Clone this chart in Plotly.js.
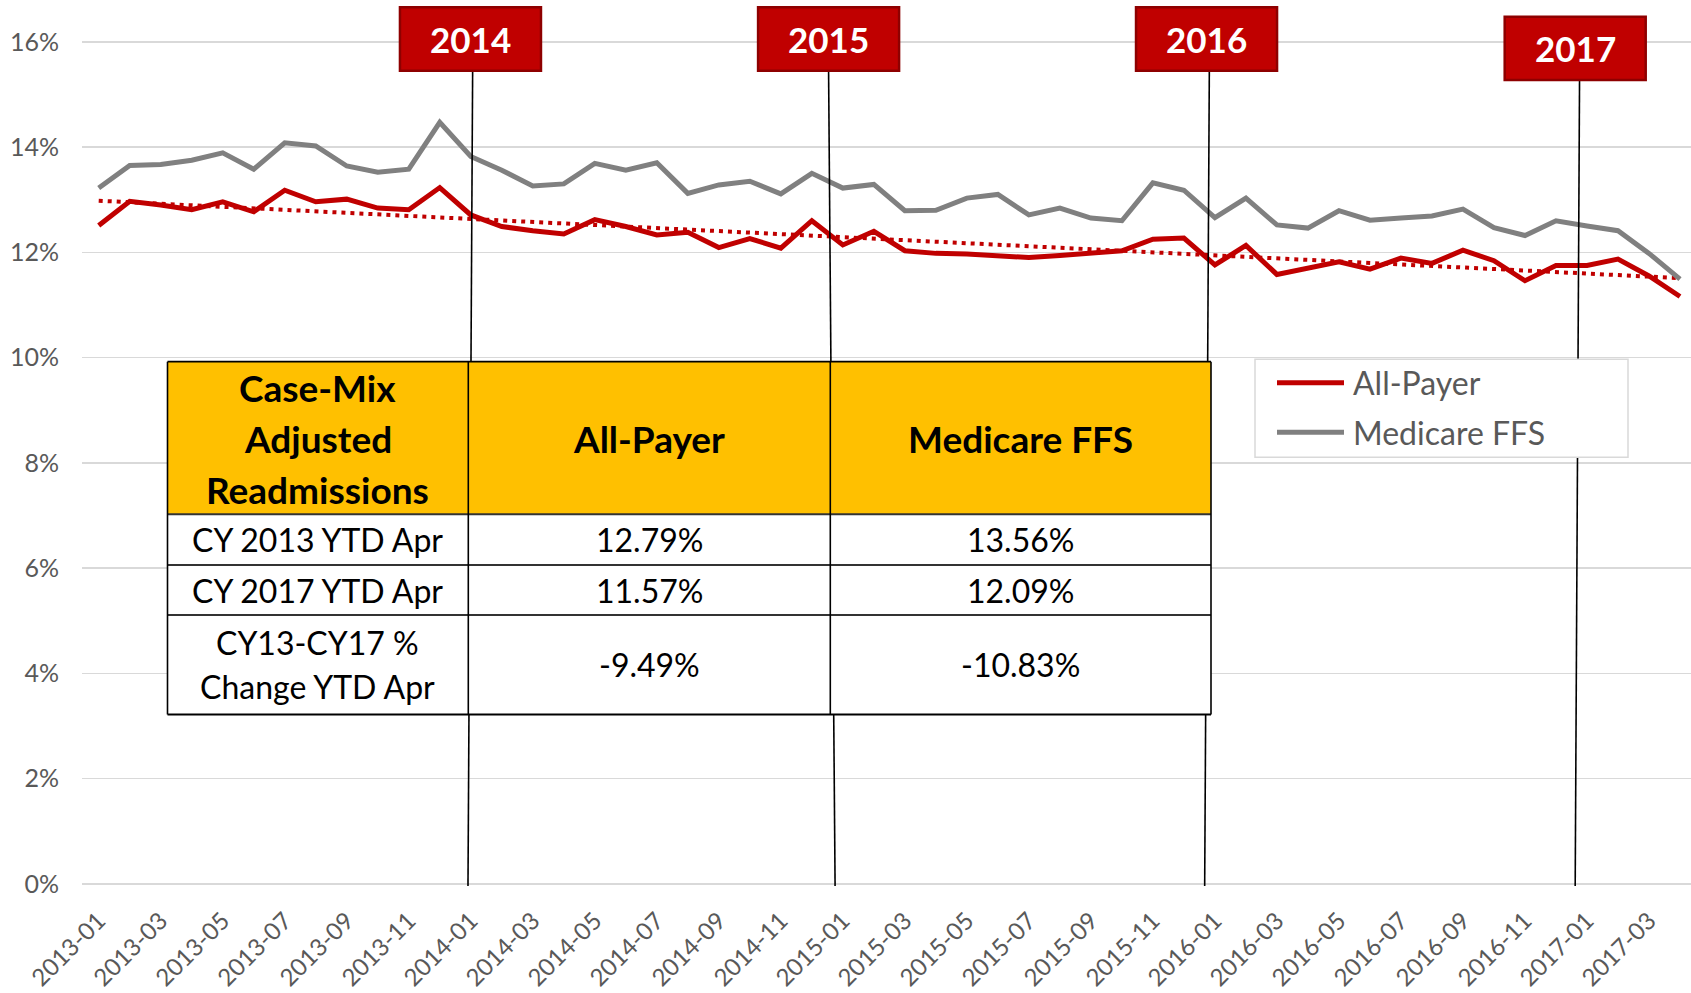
<!DOCTYPE html>
<html>
<head>
<meta charset="utf-8">
<script src="https://cdn.plot.ly/plotly-3.0.1.min.js"></script>
<style>
html,body{margin:0;padding:0;background:#fff;}
#chart{width:1691px;height:993px;}
</style>
</head>
<body>
<div id="chart"></div>
<script>
// ---------------- DATA ----------------
const months = [
  "2013-01","2013-02","2013-03","2013-04","2013-05","2013-06","2013-07","2013-08","2013-09","2013-10","2013-11","2013-12",
  "2014-01","2014-02","2014-03","2014-04","2014-05","2014-06","2014-07","2014-08","2014-09","2014-10","2014-11","2014-12",
  "2015-01","2015-02","2015-03","2015-04","2015-05","2015-06","2015-07","2015-08","2015-09","2015-10","2015-11","2015-12",
  "2016-01","2016-02","2016-03","2016-04","2016-05","2016-06","2016-07","2016-08","2016-09","2016-10","2016-11","2016-12",
  "2017-01","2017-02","2017-03","2017-04"
];
const tickMonths = [
  "2013-01","2013-03","2013-05","2013-07","2013-09","2013-11",
  "2014-01","2014-03","2014-05","2014-07","2014-09","2014-11",
  "2015-01","2015-03","2015-05","2015-07","2015-09","2015-11",
  "2016-01","2016-03","2016-05","2016-07","2016-09","2016-11",
  "2017-01","2017-03"
];
const allPayer = [
  12.51,12.97,12.90,12.81,12.96,12.77,13.18,12.96,13.01,12.84,12.81,13.23,
  12.71,12.49,12.41,12.35,12.62,12.49,12.33,12.38,12.09,12.26,12.08,12.60,
  12.14,12.40,12.03,11.98,11.97,11.94,11.90,11.94,11.98,12.03,12.25,12.27,
  11.76,12.13,11.58,11.70,11.82,11.68,11.89,11.79,12.04,11.84,11.46,11.75,
  11.75,11.87,11.55,11.16
];
const medicareFFS = [
  13.22,13.65,13.67,13.75,13.89,13.58,14.08,14.02,13.64,13.52,13.58,14.47,
  13.82,13.56,13.26,13.30,13.69,13.56,13.70,13.12,13.28,13.35,13.11,13.50,
  13.22,13.29,12.79,12.80,13.03,13.10,12.71,12.84,12.65,12.60,13.32,13.18,
  12.66,13.03,12.52,12.46,12.79,12.61,12.65,12.69,12.82,12.47,12.32,12.60,
  12.50,12.41,11.98,11.49
];
const trendMonths = ["2013-01","2017-04"];
const allPayerTrend = [12.98, 11.51];
const seriesNames = ["All-Payer","Medicare FFS"];
const yTickValues = [0,2,4,6,8,10,12,14,16];
const yTickLabels = ["0%","2%","4%","6%","8%","10%","12%","14%","16%"];
const yearLabels = ["2014","2015","2016","2017"];
const tableHeader = ["Case-Mix<br>Adjusted<br>Readmissions","All-Payer","Medicare FFS"];
const tableRowLabels = ["CY 2013 YTD Apr","CY 2017 YTD Apr","CY13-CY17 %<br>Change YTD Apr"];
const tableAllPayer = ["12.79%","11.57%","-9.49%"];
const tableMedicare = ["13.56%","12.09%","-10.83%"];

// ---------------- LAYOUT CONSTANTS ----------------
const RED = "#C00000", GRAY = "#808080", TXT = "#595959";
const FONT = "Lato, 'Open Sans', sans-serif";
const M = {l:82, r:0, t:0, b:106};
const W = 1691, H = 993;
const plotW = W - M.l - M.r, plotH = H - M.t - M.b;
const pxPerUnit = 52.64;
const yZeroPx = 884;
const yRange = [-(M.t + plotH - yZeroPx) / pxPerUnit, (yZeroPx - M.t) / pxPerUnit];
const xRange = [-0.539, 51.355];
const xp = px => (px - M.l) / plotW;
const yp = py => (M.t + plotH - py) / plotH;
const yv = py => (yZeroPx - py) / pxPerUnit;   // pixel row -> axis value (layout helper)

// year markers: line top / bottom (category index units), box centre, box vertical extent (px)
const markers = [
  {top:12.06, bottom:11.91, cx:11.99, boxTop:7.3,  boxBot:70.7},
  {top:23.54, bottom:23.75, cx:23.54, boxTop:7.3,  boxBot:70.7},
  {top:35.82, bottom:35.67, cx:35.73, boxTop:7.3,  boxBot:70.7},
  {top:47.76, bottom:47.62, cx:47.62, boxTop:16.7, boxBot:80.0}
];
const boxHalf = 2.274;

// table geometry (px)
const colEdges = [167.5, 468.3, 830.3, 1211];
const rowEdges = [361.7, 514.3, 565, 615, 714.5];

// legend geometry (px)
const LG = {x0:1255, x1:1628, y0:359.3, y1:457.3, lx0:1277, lx1:1344, rows:[382.7, 432.3], tx:1351};

// ---------------- TRACES ----------------
const traces = [
  {x: trendMonths, y: allPayerTrend, type:'scatter', mode:'lines', name:'Linear (All-Payer)',
   line:{color:RED, width:4, dash:'4px,5px'}, hoverinfo:'skip'},
  {x: months, y: medicareFFS, type:'scatter', mode:'lines', name: seriesNames[1],
   line:{color:GRAY, width:5}},
  {x: months, y: allPayer, type:'scatter', mode:'lines', name: seriesNames[0],
   line:{color:RED, width:5}}
];

// ---------------- SHAPES & ANNOTATIONS ----------------
const shapes = [];
const annotations = [];

// vertical year lines
markers.forEach(m => {
  shapes.push({type:'line', xref:'x', yref:'y', x0:m.top, x1:m.bottom, y0:yv(m.boxBot), y1:yv(886),
    line:{color:'#000', width:1.6}, layer:'above'});
});

// table
shapes.push({type:'rect', xref:'paper', yref:'paper', x0:xp(colEdges[0]), x1:xp(colEdges[3]),
  y0:yp(rowEdges[1]), y1:yp(rowEdges[0]), fillcolor:'#FFC000', line:{width:0}, layer:'above'});
shapes.push({type:'rect', xref:'paper', yref:'paper', x0:xp(colEdges[0]), x1:xp(colEdges[3]),
  y0:yp(rowEdges[4]), y1:yp(rowEdges[1]), fillcolor:'#FFFFFF', line:{width:0}, layer:'above'});
rowEdges.forEach((r, i) => {
  const outer = (i === 0 || i === rowEdges.length - 1);
  shapes.push({type:'line', xref:'paper', yref:'paper', x0:xp(colEdges[0]), x1:xp(colEdges[3]),
    y0:yp(r), y1:yp(r), line:{color: outer ? '#000' : '#333', width: outer ? 1.8 : 2}, layer:'above'});
});
colEdges.forEach(c => {
  shapes.push({type:'line', xref:'paper', yref:'paper', x0:xp(c), x1:xp(c),
    y0:yp(rowEdges[4]), y1:yp(rowEdges[0]), line:{color:'#000', width:1.6}, layer:'above'});
});

function cellText(text, cx, cy, size, bold, spacing) {
  const lines = text.split('<br>');
  const n = lines.length;
  lines.forEach((ln, i) => {
    annotations.push({xref:'paper', yref:'paper', x:xp(cx), y:yp(cy + (i - (n - 1) / 2) * spacing),
      text: bold ? '<b>' + ln + '</b>' : ln, showarrow:false, xanchor:'center', yanchor:'middle',
      font:{family:FONT, size:size, color:'#000'}});
  });
}
const colMid = i => (colEdges[i] + colEdges[i + 1]) / 2;
const rowMid = i => (rowEdges[i] + rowEdges[i + 1]) / 2;
tableHeader.forEach((h, c) => cellText(h, colMid(c), rowMid(0), 37, true, 51));
tableRowLabels.forEach((t, r) => {
  cellText(t, colMid(0), rowMid(r + 1), 32, false, 44);
  cellText(tableAllPayer[r], colMid(1), rowMid(r + 1), 32, false, 44);
  cellText(tableMedicare[r], colMid(2), rowMid(r + 1), 32, false, 44);
});

// year boxes
markers.forEach((m, i) => {
  shapes.push({type:'rect', xref:'x', yref:'y', x0:m.cx - boxHalf, x1:m.cx + boxHalf,
    y0:yv(m.boxBot), y1:yv(m.boxTop), fillcolor:RED, line:{color:'#8E0000', width:2.5}, layer:'above'});
  annotations.push({xref:'x', yref:'y', x:m.cx, y:yv((m.boxTop + m.boxBot) / 2), text:'<b>' + yearLabels[i] + '</b>',
    showarrow:false, xanchor:'center', yanchor:'middle', font:{family:FONT, size:35, color:'#FFFFFF'}});
});

// legend
shapes.push({type:'rect', xref:'paper', yref:'paper', x0:xp(LG.x0), x1:xp(LG.x1), y0:yp(LG.y1), y1:yp(LG.y0),
  fillcolor:'#FFFFFF', line:{color:'#D9D9D9', width:1.5}, layer:'above'});
[RED, GRAY].forEach((col, i) => {
  shapes.push({type:'line', xref:'paper', yref:'paper', x0:xp(LG.lx0), x1:xp(LG.lx1),
    y0:yp(LG.rows[i]), y1:yp(LG.rows[i]), line:{color:col, width:5}, layer:'above'});
  annotations.push({xref:'paper', yref:'paper', x:xp(LG.tx), y:yp(LG.rows[i]), text:seriesNames[i],
    showarrow:false, xanchor:'left', yanchor:'middle', font:{family:FONT, size:32, color:TXT}});
});

const layout = {
  width:W, height:H, margin:M, paper_bgcolor:'#fff', plot_bgcolor:'#fff',
  showlegend:false,
  font:{family:FONT, color:TXT},
  xaxis:{type:'category', categoryorder:'array', categoryarray:months, range:xRange,
    tickmode:'array', tickvals:tickMonths, ticktext:tickMonths, tickangle:-45,
    tickfont:{family:FONT, size:24, color:TXT}, showgrid:false, zeroline:false, showline:false,
    ticks:'', ticklabelstandoff:14, fixedrange:true},
  yaxis:{range:yRange, tickmode:'array', tickvals:yTickValues, ticktext:yTickLabels,
    tickfont:{family:FONT, size:25, color:TXT}, showgrid:true, gridcolor:'#D9D9D9', gridwidth:1.5,
    zeroline:false, showline:false, ticks:'', ticklabelstandoff:22, fixedrange:true},
  shapes:shapes, annotations:annotations
};

Plotly.newPlot('chart', traces, layout, {staticPlot:true, displayModeBar:false});
</script>
</body>
</html>
